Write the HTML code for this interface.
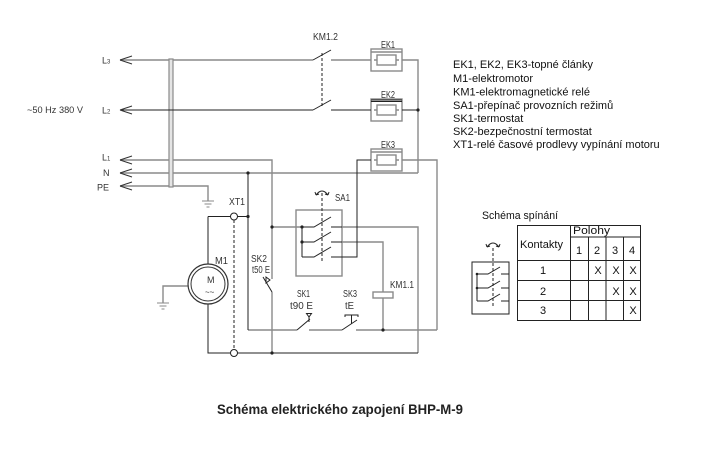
<!DOCTYPE html>
<html><head><meta charset="utf-8"><style>
html,body{margin:0;padding:0;background:#fff;}
svg{display:block;}
</style></head><body>
<svg width="720" height="451" viewBox="0 0 720 451" xmlns="http://www.w3.org/2000/svg">
<rect width="720" height="451" fill="#fff"/>
<g fill="none">
<g stroke="#8a8a8a" stroke-width="1.4">
<path d="M120,60 H313 M331,60 H371 M402,60 H418 V173"/>
<path d="M120,160 H272 V279 M272,292 V353"/>
<path d="M120,173 H418"/>
<path d="M120,186 H208 V201"/>
<path d="M402,160 H437 V330"/>
<path d="M272,227 H302"/>
<path d="M342,227 H418 V353"/>
<path d="M342,242 H383 V292 M383,298 V330"/>
<path d="M248,330 H297 M309,330 H342 M356,330 H437"/>
<rect x="296" y="210" width="46" height="66"/>
<path d="M188,286 H163 V303"/>
<rect x="371" y="49" width="31" height="22"/><path d="M371,52 H402"/>
<rect x="377" y="55" width="19" height="10"/><path d="M374,60 H377 M396,60 H399"/>
<rect x="371" y="99" width="31" height="22"/>
<rect x="377" y="105" width="19" height="10"/><path d="M374,110 H377 M396,110 H399"/>
<rect x="371" y="149" width="31" height="22"/><path d="M371,152 H402"/>
<rect x="377" y="155" width="19" height="10"/><path d="M374,160 H377 M396,160 H399"/>
<rect x="373" y="292" width="20" height="6"/>
</g>
<rect x="169" y="59" width="4" height="128" fill="#e4e4e4" stroke="#8a8a8a" stroke-width="1.2"/>
<g stroke="#222" stroke-width="1">
<path d="M371,100 H402 M371,101.5 H402"/>
<path d="M120,110 H313 M331,110 H371 M402,110 H418"/>
<path d="M313,60 L331,50 M313,110 L331,100"/>
<path d="M322,53 V106" stroke-dasharray="3,2"/>
<path d="M371,160 H357 V257 H331"/>
<path d="M208,216.5 H230.5 M237.5,216.5 H248 M248,173 V330"/>
<path d="M208,216.5 V264 M208,304 V353 H230.5 M237.5,353 H418"/>
<path d="M234,220 V349.5" stroke-dasharray="3,2"/>
<path d="M302,227 V257 M302,227 H314 L331,217 M302,242 H314 L331,232 M302,257 H314 L331,247 M331,227 H342 M331,242 H342"/>
<path d="M322,193 V263" stroke-dasharray="3,2"/>
<path d="M316,195 Q322,187 328,195 M316,195 L315,192 M316,195 L319,194 M328,195 L329,192 M328,195 L325,194"/>
<path d="M263,277 L272,292"/>
<path d="M266,277 L270,280 L266,283 Z"/>
<path d="M297,330 L310,319 M306.5,313.5 H311.5 L309,317 Z M309,317 V322"/>
<path d="M342,330 L357,320 M345,317 V315 H358 V317 M351.5,315 V324"/>
<path d="M202,201 H214 M204.5,204 H211.5 M206.5,207 H209.5" stroke="#8a8a8a"/>
<path d="M157,303 H169 M159.5,306 H166.5 M161.5,309 H164.5" stroke="#8a8a8a"/>
</g>
<circle cx="208" cy="284" r="20" stroke="#333" stroke-width="1.2"/>
<circle cx="208" cy="284" r="17" stroke="#333" stroke-width="1"/>
<circle cx="234" cy="216.5" r="3.5" fill="#fff" stroke="#222"/>
<circle cx="234" cy="353" r="3.5" fill="#fff" stroke="#222"/>
<g stroke="#222" stroke-width="1">
<rect x="472" y="262" width="37" height="52"/>
<path d="M477,274 V301 M477,274 H488 L500,267 M477,288 H488 L500,281 M477,301 H488 L500,294 M501,274 H509 M501,288 H509 M501,301 H509"/>
<path d="M493,248 V307" stroke-dasharray="3,2"/>
<path d="M487,247 Q493,239 499,247 M487,247 L486,244 M487,247 L490,246 M499,247 L500,244 M499,247 L496,246"/>
</g>
<g stroke="#222" stroke-width="1">
<rect x="517.5" y="225.5" width="123" height="95"/>
<path d="M570.5,237 H640 M517.5,260.5 H640 M517.5,280.5 H640 M517.5,300.5 H640"/>
<path d="M570.5,225.5 V320.5 M588.5,237 V320.5 M606,237 V320.5 M623.5,237 V320.5"/>
</g>
</g>
<g fill="#222">
<circle cx="418" cy="110" r="1.6"/>
<circle cx="248" cy="173" r="1.6"/>
<circle cx="248" cy="216.5" r="1.6"/>
<circle cx="272" cy="227" r="1.6"/>
<circle cx="302" cy="227" r="1.6"/>
<circle cx="302" cy="242" r="1.6"/>
<circle cx="272" cy="353" r="1.6"/>
<circle cx="383" cy="330" r="1.6"/>
<circle cx="477" cy="274" r="1.3"/>
<circle cx="477" cy="288" r="1.3"/>
<path d="M120,60 L132,56 M120,60 L132,64 M120,110 L132,106 M120,110 L132,114 M120,160 L132,156 M120,160 L132,164 M120,173 L132,169 M120,173 L132,177 M120,186 L132,182 M120,186 L132,190" stroke="#333" stroke-width="1"/>
</g>
<g font-family="Liberation Sans, Arial, sans-serif" font-size="9" fill="#333">
<text x="102" y="63.5">L<tspan font-size="6">3</tspan></text>
<text x="102" y="113.5">L<tspan font-size="6">2</tspan></text>
<text x="102" y="160.5">L<tspan font-size="6">1</tspan></text>
<text x="103" y="176">N</text>
<text x="97" y="190.5">PE</text>
<text x="27" y="113" textLength="56" lengthAdjust="spacingAndGlyphs">~50 Hz 380 V</text>
</g>
<g font-family="Liberation Sans, Arial, sans-serif" font-size="10" fill="#333">
<text x="313" y="40" textLength="25" lengthAdjust="spacingAndGlyphs">KM1.2</text>
<text x="381" y="48" textLength="14" lengthAdjust="spacingAndGlyphs">EK1</text>
<text x="381" y="98" textLength="14" lengthAdjust="spacingAndGlyphs">EK2</text>
<text x="381" y="148" textLength="14" lengthAdjust="spacingAndGlyphs">EK3</text>
<text x="335" y="201" textLength="15" lengthAdjust="spacingAndGlyphs">SA1</text>
<text x="229" y="205" textLength="16" lengthAdjust="spacingAndGlyphs">XT1</text>
<text x="215" y="264" textLength="13" lengthAdjust="spacingAndGlyphs">M1</text>
<text x="207" y="283" font-size="9">M</text>
<text x="205" y="295" font-size="8">~~</text>
<text x="251" y="262" textLength="16" lengthAdjust="spacingAndGlyphs">SK2</text>
<text x="252" y="273" textLength="18" lengthAdjust="spacingAndGlyphs">t50 E</text>
<text x="297" y="297" textLength="13" lengthAdjust="spacingAndGlyphs">SK1</text>
<text x="290" y="309" textLength="23" lengthAdjust="spacingAndGlyphs">t90 E</text>
<text x="343" y="297" textLength="14" lengthAdjust="spacingAndGlyphs">SK3</text>
<text x="345" y="309" textLength="9" lengthAdjust="spacingAndGlyphs">tE</text>
<text x="390" y="288" textLength="24" lengthAdjust="spacingAndGlyphs">KM1.1</text>
</g>
<g font-family="Liberation Sans, Arial, sans-serif" font-size="11" fill="#111">
<text x="453" y="68">EK1, EK2, EK3-topné články</text>
<text x="453" y="82">M1-elektromotor</text>
<text x="453" y="95.5">KM1-elektromagnetické relé</text>
<text x="453" y="109">SA1-přepínač provozních režimů</text>
<text x="453" y="122">SK1-termostat</text>
<text x="453" y="135">SK2-bezpečnostní termostat</text>
<text x="453" y="148">XT1-relé časové prodlevy vypínání motoru</text>
<text x="482" y="219" textLength="76" lengthAdjust="spacingAndGlyphs">Schéma spínání</text>
<text x="573" y="234" textLength="37" lengthAdjust="spacingAndGlyphs">Polohy</text>
<text x="520" y="248" textLength="43" lengthAdjust="spacingAndGlyphs">Kontakty</text>
</g>
<g font-family="Liberation Sans, Arial, sans-serif" font-size="11" fill="#111" text-anchor="middle">
<text x="579" y="254">1</text>
<text x="597" y="254">2</text>
<text x="615" y="254">3</text>
<text x="632" y="254">4</text>
<text x="543" y="274">1</text>
<text x="543" y="295">2</text>
<text x="543" y="314">3</text>
<text x="598" y="274">X</text>
<text x="616" y="274">X</text>
<text x="633" y="274">X</text>
<text x="616" y="295">X</text>
<text x="633" y="295">X</text>
<text x="633" y="314">X</text>
</g>
<text x="217" y="414" font-family="Liberation Sans, Arial, sans-serif" font-size="14" font-weight="bold" fill="#222" textLength="246" lengthAdjust="spacingAndGlyphs">Schéma elektrického zapojení BHP-M-9</text>
</svg>
</body></html>
